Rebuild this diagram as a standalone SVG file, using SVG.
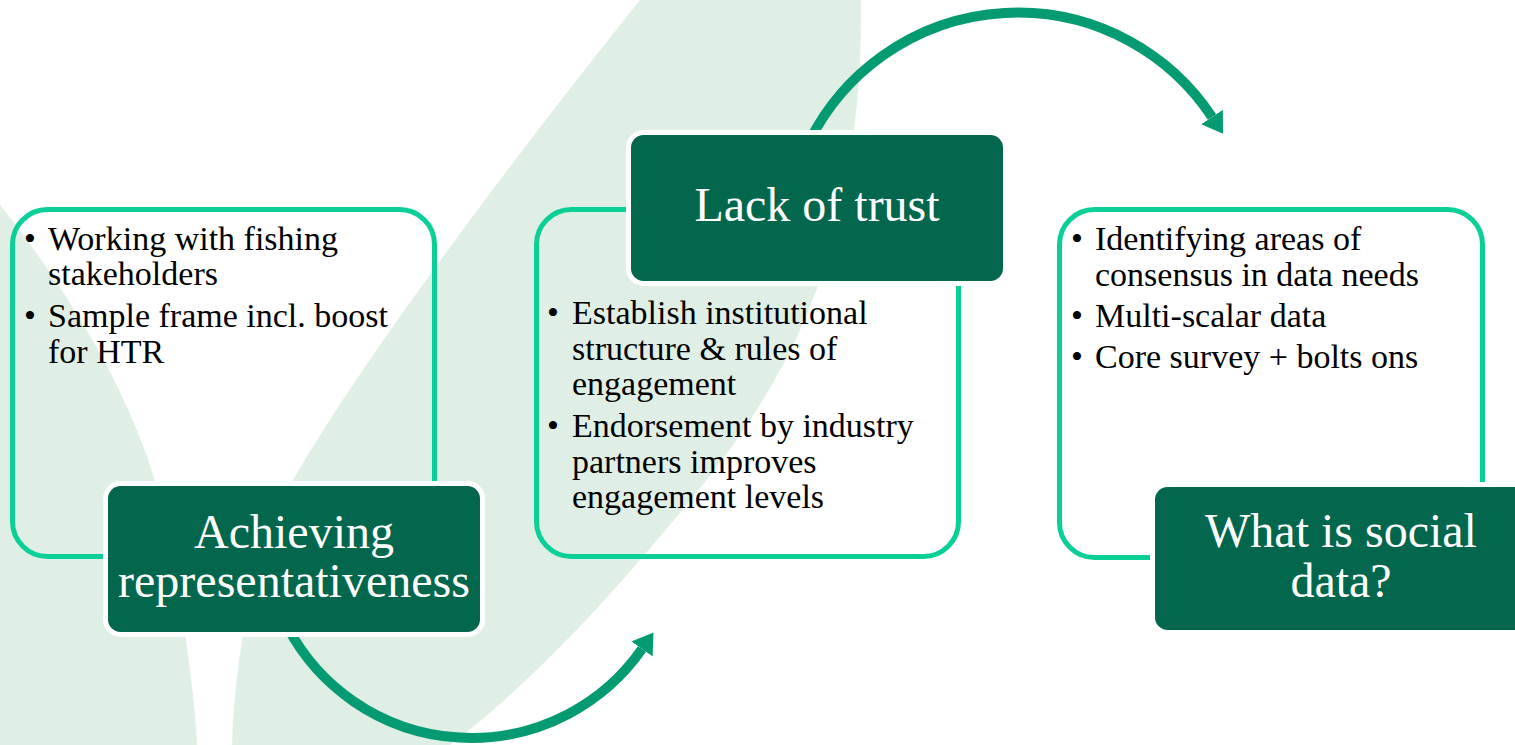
<svg xmlns="http://www.w3.org/2000/svg" width="1515" height="745" viewBox="0 0 1515 745">
<defs>
<style>
.leaf{fill:#E0EFE5}
.outline{fill:none;stroke:#0ACF97;stroke-width:5}
.head{fill:#03674E;stroke:#FFFFFF;stroke-width:5}
.arc{fill:none;stroke:#049B73;stroke-width:10}
.b{font-family:'Liberation Serif','DejaVu Serif',serif;font-size:34px;fill:#000000}
.t{font-family:'Liberation Serif','DejaVu Serif',serif;font-size:48px;fill:#FFFFFF;text-anchor:middle}
</style>
<marker id="ah" markerUnits="userSpaceOnUse" markerWidth="24" markerHeight="26" refX="0" refY="13" orient="auto" viewBox="0 0 24 26">
<path d="M0,0 L20,13 L0,26 Z" fill="#049B73"/>
</marker>
</defs>
<rect width="1515" height="745" fill="#FFFFFF"/>
<g id="background">
<path class="leaf" d="M0,205 C60,280 140,400 165,520 C185,620 195,700 197,745 L0,745 Z"/>
<path class="leaf" d="M640,0 L861,0 C862,100 850,220 800,330 C760,420 700,490 640,560 C580,630 510,700 450,745 L232,745 C235,650 255,550 293,480 C380,330 560,100 640,0 Z"/>
</g>
<g id="connectors">
<path class="arc" d="M288,628 A208,208 0 0 0 642,649" marker-end="url(#ah)"/>
<path class="arc" d="M810,140 A233,233 0 0 1 1212,117" marker-end="url(#ah)"/>
</g>
<g id="node-achieving">
<rect class="outline" x="12.5" y="209.5" width="422" height="347" rx="35"/>
<text class="b" font-family="Liberation Serif, serif" x="24" y="250">•</text>
<text class="b" font-family="Liberation Serif, serif" x="48" y="250">Working with fishing</text>
<text class="b" font-family="Liberation Serif, serif" x="48" y="285">stakeholders</text>
<text class="b" font-family="Liberation Serif, serif" x="24" y="327">•</text>
<text class="b" font-family="Liberation Serif, serif" x="48" y="327">Sample frame incl. boost</text>
<text class="b" font-family="Liberation Serif, serif" x="48" y="363">for HTR</text>
<rect class="head" x="105.5" y="483.5" width="377" height="151" rx="15"/>
<text class="t" font-family="Liberation Serif, serif" x="294" y="548">Achieving</text>
<text class="t" font-family="Liberation Serif, serif" x="294" y="597">representativeness</text>
</g>
<g id="node-trust">
<rect class="outline" x="536.5" y="209.5" width="422" height="347" rx="35"/>
<rect class="head" x="628.5" y="132.5" width="377" height="151" rx="15"/>
<text class="t" font-family="Liberation Serif, serif" x="817" y="221">Lack of trust</text>
<text class="b" font-family="Liberation Serif, serif" x="547" y="324">•</text>
<text class="b" font-family="Liberation Serif, serif" x="572" y="324">Establish institutional</text>
<text class="b" font-family="Liberation Serif, serif" x="572" y="360">structure &amp; rules of</text>
<text class="b" font-family="Liberation Serif, serif" x="572" y="395">engagement</text>
<text class="b" font-family="Liberation Serif, serif" x="547" y="437">•</text>
<text class="b" font-family="Liberation Serif, serif" x="572" y="437">Endorsement by industry</text>
<text class="b" font-family="Liberation Serif, serif" x="572" y="473">partners improves</text>
<text class="b" font-family="Liberation Serif, serif" x="572" y="508">engagement levels</text>
</g>
<g id="node-social">
<rect class="outline" x="1059.5" y="209.5" width="423" height="348" rx="35"/>
<text class="b" font-family="Liberation Serif, serif" x="1071" y="250">•</text>
<text class="b" font-family="Liberation Serif, serif" x="1095" y="250">Identifying areas of</text>
<text class="b" font-family="Liberation Serif, serif" x="1095" y="286">consensus in data needs</text>
<text class="b" font-family="Liberation Serif, serif" x="1071" y="327">•</text>
<text class="b" font-family="Liberation Serif, serif" x="1095" y="327">Multi-scalar data</text>
<text class="b" font-family="Liberation Serif, serif" x="1071" y="368">•</text>
<text class="b" font-family="Liberation Serif, serif" x="1095" y="368">Core survey + bolts ons</text>
<rect class="head" x="1152.5" y="484.5" width="377" height="148" rx="15"/>
<text class="t" font-family="Liberation Serif, serif" x="1341" y="547">What is social</text>
<text class="t" font-family="Liberation Serif, serif" x="1341" y="597">data?</text>
</g>
</svg>
